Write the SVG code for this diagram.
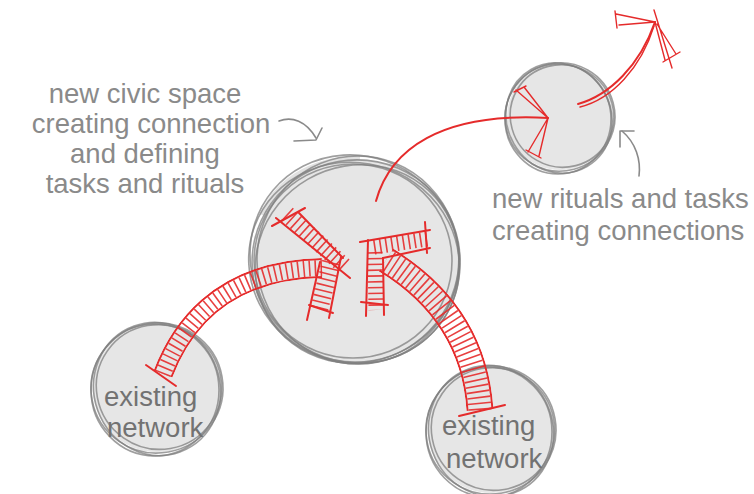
<svg xmlns="http://www.w3.org/2000/svg" width="754" height="494" viewBox="0 0 754 494">
<style>
.bg{fill:#e6e6e6;stroke:none}
.ring{fill:none;stroke:#7f7f7f;stroke-width:1.6;opacity:0.75}
.halo{fill:none;stroke:#c4c4c4;stroke-width:5;opacity:0.5}
.lbl{font-family:"Liberation Sans",Arial,sans-serif;font-size:27.5px;fill:#8a8a8a}
.net{font-family:"Liberation Sans",Arial,sans-serif;font-size:27.5px;fill:#727272}
.note{fill:none;stroke:#8a8a8a;stroke-width:1.6;stroke-linecap:round;stroke-linejoin:round}
.r{fill:none;stroke:#e52b2b;stroke-width:2;stroke-linecap:round;stroke-linejoin:round}
.rt{fill:none;stroke:#e52b2b;stroke-width:1.4;stroke-linecap:round}
.edge{fill:none;stroke:#e52b2b}
.hatch{fill:none;stroke:#e52b2b;stroke-dasharray:1.6 4.2;opacity:0.9}
</style>
<defs>
<mask id="mL" maskUnits="userSpaceOnUse" x="0" y="0" width="754" height="494">
<path d="M163,374 C178,335 215,270 322,268" stroke="#fff" stroke-width="20" fill="none"/>
<path d="M163,374 C178,335 215,270 322,268" stroke="#000" stroke-width="16" fill="none"/>
</mask>
<mask id="mR" maskUnits="userSpaceOnUse" x="0" y="0" width="754" height="494">
<path d="M480,410 C476,350 448,298 386,260" stroke="#fff" stroke-width="27" fill="none"/>
<path d="M480,410 C476,350 448,298 386,260" stroke="#000" stroke-width="23" fill="none"/>
</mask>
</defs>

<g id="node-civic-space">
<circle class="bg" cx="356" cy="261" r="102"/>
<path class="halo" d="M262,215 C280,175 320,158 360,158"/>
<ellipse class="ring" cx="356" cy="261" rx="104" ry="101" transform="rotate(-10 356 261)"/>
<ellipse class="ring" cx="354" cy="263" rx="106" ry="100" transform="rotate(20 354 263)"/>
<ellipse class="ring" cx="358" cy="260" rx="101" ry="104"/>
<ellipse class="ring" cx="355" cy="259" rx="107" ry="102" transform="rotate(40 355 259)"/>
<ellipse class="ring" cx="357" cy="264" rx="103" ry="98" transform="rotate(-30 357 264)"/>
<ellipse class="ring" cx="353" cy="261" rx="99" ry="97"/>
<text class="lbl" text-anchor="middle" x="145" y="103">new civic space</text>
<text class="lbl" text-anchor="middle" x="151" y="133">creating connection</text>
<text class="lbl" text-anchor="middle" x="145" y="163">and defining</text>
<text class="lbl" text-anchor="middle" x="145" y="193">tasks and rituals</text>
</g>

<g id="node-new-rituals">
<circle class="bg" cx="560" cy="117" r="53"/>
<ellipse class="ring" cx="560" cy="117" rx="55" ry="54" transform="rotate(-15 560 117)"/>
<ellipse class="ring" cx="558" cy="119" rx="53" ry="55"/>
<ellipse class="ring" cx="562" cy="116" rx="52" ry="51" transform="rotate(30 562 116)"/>
<ellipse class="ring" cx="559" cy="118" rx="56" ry="52" transform="rotate(60 559 118)"/>
<text class="lbl" x="492" y="208">new rituals and tasks</text>
<text class="lbl" x="492" y="240">creating connections</text>
</g>

<g id="node-network-1">
<circle class="bg" cx="157" cy="388" r="64"/>
<ellipse class="ring" cx="157" cy="388" rx="66" ry="65" transform="rotate(-10 157 388)"/>
<ellipse class="ring" cx="155" cy="390" rx="64" ry="66"/>
<ellipse class="ring" cx="159" cy="387" rx="63" ry="62" transform="rotate(35 159 387)"/>
<ellipse class="ring" cx="157" cy="389" rx="67" ry="63" transform="rotate(70 157 389)"/>
<text class="net" x="104" y="406">existing</text>
<text class="net" x="107" y="437">network</text>
</g>

<g id="node-network-2">
<circle class="bg" cx="491" cy="430" r="63"/>
<ellipse class="ring" cx="491" cy="430" rx="65" ry="64" transform="rotate(-10 491 430)"/>
<ellipse class="ring" cx="489" cy="432" rx="63" ry="65"/>
<ellipse class="ring" cx="493" cy="429" rx="62" ry="61" transform="rotate(35 493 429)"/>
<ellipse class="ring" cx="491" cy="431" rx="66" ry="62" transform="rotate(70 491 431)"/>
<text class="net" x="442" y="435">existing</text>
<text class="net" x="446" y="468">network</text>
</g>

<g id="connectors">
<path class="note" d="M279,121 C292,116 306,121 316,138"/>
<path class="note" d="M294,141 L316,140 L322,128"/>
<path class="note" d="M639,176 C641,160 636,143 622,131"/>
<path class="note" d="M620,147 L620,131 L634,131"/>

<path class="r" d="M376,201 C390,150 440,112 548,118"/>
<path class="rt" d="M548,118 L516,90 M548,118 L524,87 M514,92 L526,86"/>
<path class="rt" d="M548,118 L528,152 M548,118 L539,156 M526,150 L541,158"/>

<path class="r" d="M578,104 C610,95 640,65 655,22"/>
<path class="rt" d="M580,107 C612,99 641,68 654,26"/>
<path class="rt" d="M655,22 L616,14 M655,22 L619,25 M615,11 L617,28"/>
<path class="rt" d="M655,22 L665,60 M657,24 L676,54 M663,62 L680,52 M654,10 L672,68"/>

<path class="edge" d="M163,374 C178,335 215,270 322,268" stroke-width="20" mask="url(#mL)"/>
<path class="hatch" d="M163,374 C178,335 215,270 322,268" stroke-width="16"/>
<path class="r" d="M146,365 L176,386"/>
<path class="r" d="M276,218 L350,278 M299,213 L343,258 M272,226 L305,208"/>
<path class="hatch" d="M287,214 L344,266" stroke-width="17"/>
<path class="r" d="M341,257 L329,318 M320,262 L307,320 M309,305 L333,313"/>
<path class="hatch" d="M331,262 L319,310" stroke-width="18"/>

<path class="edge" d="M480,410 C476,350 448,298 386,260" stroke-width="27" mask="url(#mR)"/>
<path class="hatch" d="M480,410 C476,350 448,298 386,260" stroke-width="23"/>
<path class="r" d="M459,416 L505,405"/>
<path class="r" d="M360,242 L430,230 M383,258 L430,248 M425,222 L427,253"/>
<path class="hatch" d="M374,247 L427,239" stroke-width="15"/>
<path class="r" d="M368,240 L366,316 M383,258 L384,315 M361,302 L388,305"/>
<path class="hatch" d="M375,252 L376,310" stroke-width="15"/>
</g>
</svg>
